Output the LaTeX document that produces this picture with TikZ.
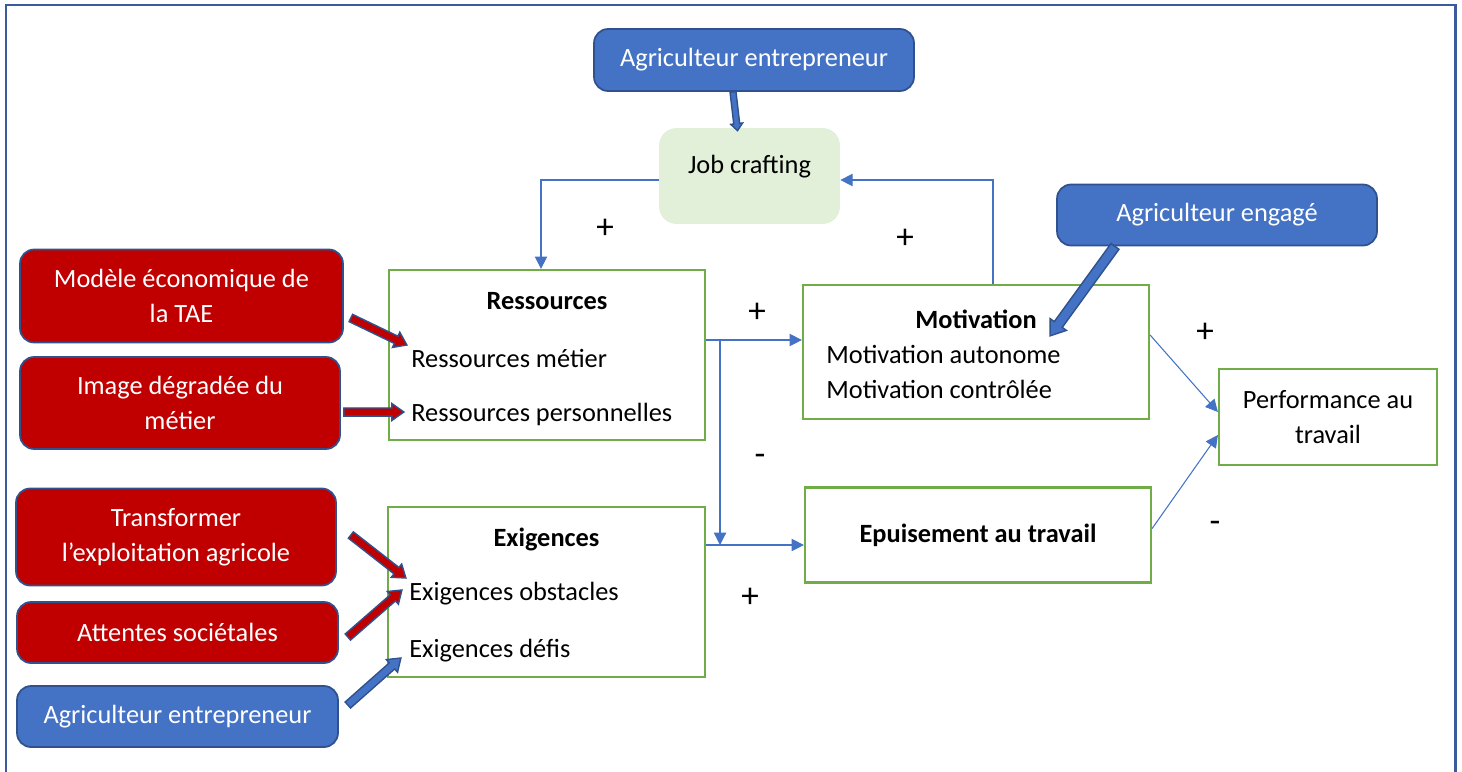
\documentclass[tikz,border=0pt]{standalone}
\usepackage{fontspec}
\setmainfont{Carlito}
\usepackage{tikz}
\usetikzlibrary{calc, arrows.meta, positioning}
\definecolor{myblue}{RGB}{68, 114, 196}
\definecolor{myblueline}{RGB}{47, 82, 143}
\definecolor{myred}{RGB}{192, 0, 0}
\definecolor{mygreen}{RGB}{112, 173, 71}
\definecolor{mylightgreen}{RGB}{226, 240, 217}
\definecolor{myframe}{RGB}{59, 91, 158}
\tikzset{>={Triangle[length=7pt, width=7pt]}}
\tikzset{
  colbox/.style = {draw=myblueline, line width=1pt, rounded corners=8pt, text=white, align=center, inner sep=0pt},
  redbox/.style = {colbox, fill=myred},
  bluebox/.style = {colbox, fill=myblue},
  greenbox/.style = {draw=mygreen, line width=1.3pt, align=center, inner sep=0pt},
  item/.style = {anchor=west, inner sep=0pt},
  conn/.style = {draw=myblue, line width=0.6pt, ->},
  sign/.style = {font=\fontsize{20}{22}\selectfont}
}
% block arrow: #1 fill, #2 start, #3 tip
\def\bw{2.3pt}\def\bW{4.8pt}\def\bh{6.8pt}
\newcommand{\barrow}[3]{%
\filldraw[fill=#1, draw=myblueline, line width=0.8pt]
  ($(#2)!\bw!90:(#3)$) -- ($(#3)!\bh!(#2)!\bw!-90:(#2)$) -- ($(#3)!\bh!(#2)!\bW!-90:(#2)$)
  -- (#3) -- ($(#3)!\bh!(#2)!\bW!90:(#2)$) -- ($(#3)!\bh!(#2)!\bw!90:(#2)$)
  -- ($(#2)!\bw!-90:(#3)$) -- cycle;}

\begin{document}
\begin{tikzpicture}[x=0.02cm, y=-0.02cm, font=\fontsize{15}{20}\selectfont]
\useasboundingbox (0,0) rectangle (1462,771);
\draw[myframe, line width=1.7pt] (6,780) -- (6,5) -- (1455,5) -- (1455,780);

% top row
\node[bluebox, minimum width=6.4cm, minimum height=1.24cm] (ent1) at (754,60) {Agriculteur entrepreneur};
\node[fill=mylightgreen, rounded corners=10pt, minimum width=3.62cm, minimum height=1.92cm] (job) at (749.5,176) {};
\node (jobtxt) at (749.5,167) {Job crafting};
\node[bluebox, minimum width=6.4cm, minimum height=1.22cm] (eng) at (1217,215) {Agriculteur engagé};

% left column
\node[redbox, minimum width=6.46cm, minimum height=1.86cm] (red1) at (181.5,296) {Modèle économique de\\la TAE};
\node[redbox, minimum width=6.4cm, minimum height=1.84cm] (red2) at (180,403) {Image dégradée du\\métier};
\node[redbox, minimum width=6.4cm, minimum height=1.94cm] (red3) at (176,537) {Transformer\\l’exploitation agricole};
\node[redbox, minimum width=6.42cm, minimum height=1.22cm] (red4) at (177.5,632.5) {Attentes sociétales};
\node[bluebox, minimum width=6.42cm, minimum height=1.22cm] (ent2) at (177.5,716.5) {Agriculteur entrepreneur};

% model boxes
\node[greenbox, minimum width=6.32cm, minimum height=3.4cm] (res) at (547,355) {};
\node[font=\fontsize{15}{20}\bfseries] (restitle) at (547,301) {Ressources};
\node[item] (res1) at (411,358) {Ressources métier};
\node[item] (res2) at (411,414) {Ressources personnelles};

\node[greenbox, minimum width=6.34cm, minimum height=3.4cm] (exi) at (546.5,592) {};
\node[font=\fontsize{15}{20}\bfseries] (exititle) at (546.5,539) {Exigences};
\node[item] (exi1) at (409,594) {Exigences obstacles};
\node[item] (exi2) at (409,651) {Exigences défis};

\node[greenbox, minimum width=6.92cm, minimum height=2.68cm] (mot) at (976,352) {};
\node[font=\fontsize{15}{20}\bfseries] (mottitle) at (976,319) {Motivation};
\node[item] (mot1) at (826,354) {Motivation autonome};
\node[item] (mot2) at (826,389) {Motivation contrôlée};

\node[greenbox, minimum width=6.92cm, minimum height=1.9cm, font=\fontsize{15}{20}\bfseries] (epu) at (978,535) {Epuisement au travail};
\node[greenbox, minimum width=4.36cm, minimum height=1.92cm] (perf) at (1328,417) {Performance au\\travail};

% thin connectors
\coordinate (split1) at (720,340);
\coordinate (split2) at (720,545);
\draw[conn] ([yshift=-0.08cm]job.west) -| ([xshift=-0.12cm]res.north);
\draw[conn] ([xshift=0.34cm]mot.north) |- ([yshift=-0.08cm]job.east);
\draw[conn] (res.east |- split1) -- (mot.west |- split1);
\draw[conn] (split1) -- (split2);
\draw[conn] (exi.east |- split2) -- (epu.west |- split2);
\draw[conn] ([yshift=0.34cm]mot.east) -- ([yshift=0.1cm]perf.west);
\draw[conn] ([yshift=0.13cm]epu.east) -- ([yshift=-0.36cm]perf.west);

\node[sign] (p1) at (605,229) {+};
\node[sign] (p2) at (905,239) {+};
\node[sign] (p3) at (757,313) {+};
\node[sign] (p4) at (1205,333) {+};
\node[sign] (p5) at (750,598) {+};
\node[sign] (m1) at (760,460) {-};
\node[sign] (m2) at (1215,527) {-};

% block arrows
\coordinate (b1s) at ([shift={(-21,0)}]ent1.south);
\coordinate (b1e) at ([shift={(-12,3)}]job.north);
\coordinate (b2s) at ([shift={(7,22)}]red1.east);
\coordinate (b2e) at ([shift={(19,-10)}]res.west);
\coordinate (b3s) at ([shift={(3,9)}]red2.east);
\coordinate (b3e) at ([shift={(16,57)}]res.west);
\coordinate (b4s) at ([shift={(14,-2)}]red3.east);
\coordinate (b4e) at ([shift={(19,-14)}]exi.west);
\coordinate (b5s) at ([shift={(9,4.5)}]red4.east);
\coordinate (b5e) at ([shift={(15,-2)}]exi.west);
\coordinate (b6s) at ([shift={(9,-11.5)}]ent2.east);
\coordinate (b6e) at ([shift={(14,66)}]exi.west);
\coordinate (b7s) at ([shift={(-102,0)}]eng.south);
\coordinate (b7e) at ([shift={(74,52)}]mot.north);
\barrow{myred}{b2s}{b2e}
\barrow{myred}{b3s}{b3e}
\barrow{myred}{b4s}{b4e}
\barrow{myred}{b5s}{b5e}
\barrow{myblue}{b6s}{b6e}
{\def\bw{1.7pt}\def\bW{3.4pt}\def\bh{4pt}
\barrow{myblue}{b1s}{b1e}}
{\def\bw{2.8pt}\def\bW{5.7pt}\def\bh{8pt}
\barrow{myblue}{b7s}{b7e}}
\end{tikzpicture}
\end{document}
